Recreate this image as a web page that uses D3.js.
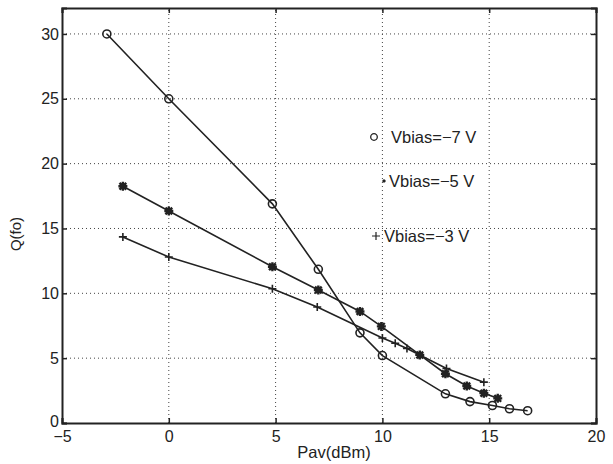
<!DOCTYPE html>
<html><head><meta charset="utf-8">
<script src="https://cdn.jsdelivr.net/npm/d3@7"></script>
<style>body{margin:0;background:#fff}</style>
</head><body>
<svg id="c" width="613" height="464"></svg>
<script>
const xTicks = [-5, 0, 5, 10, 15, 20];
const yTicks = [0, 5, 10, 15, 20, 25, 30];
const seriesNames = ["Vbias=\u22127 V", "Vbias=\u22125 V", "Vbias=\u22123 V"];
const v7x = [-2.9, 0, 4.85, 7.0, 8.95, 10.0, 12.95, 14.1, 15.15, 15.95, 16.8];
const v7y = [30.0, 25.0, 16.9, 11.85, 6.95, 5.2, 2.25, 1.65, 1.35, 1.1, 0.95];
const v5x = [-2.15, 0.0, 4.85, 7.0, 8.95, 9.95, 11.75, 12.95, 13.95, 14.75, 15.4];
const v5y = [18.25, 16.35, 12.05, 10.25, 8.6, 7.45, 5.25, 3.8, 2.85, 2.3, 1.9];
const v3x = [-2.15, 0.0, 4.85, 6.95, 10.0, 10.6, 11.15, 11.75, 13.0, 14.75];
const v3y = [14.35, 12.8, 10.35, 8.95, 6.55, 6.15, 5.75, 5.25, 4.2, 3.15];

const svg = d3.select("#c");
const x = d3.scaleLinear().domain([-5, 20]).range([62, 596]);
const y = d3.scaleLinear().domain([0, 32]).range([423, 8]);
const ink = "#222";
const font = "'Liberation Sans', Arial, Helvetica, sans-serif";

// grid
const g = svg.append("g");
g.selectAll("line.gx").data(xTicks.slice(1, -1)).enter().append("line")
  .attr("x1", d => x(d)).attr("x2", d => x(d)).attr("y1", y(0)).attr("y2", y(32))
  .attr("stroke", "#444").attr("stroke-width", 1).attr("stroke-dasharray", "1,3");
g.selectAll("line.gy").data(yTicks.slice(1)).enter().append("line")
  .attr("x1", x(-5)).attr("x2", x(20)).attr("y1", d => y(d)).attr("y2", d => y(d))
  .attr("stroke", "#444").attr("stroke-width", 1).attr("stroke-dasharray", "1,3");

// axes (inner ticks)
const ax = svg.append("g").attr("transform", `translate(0,${y(0)})`)
  .call(d3.axisBottom(x).tickValues(xTicks).tickSize(-5).tickPadding(7.5).tickFormat(d3.format("d")));
const axT = svg.append("g").attr("transform", `translate(0,${y(32)})`)
  .call(d3.axisTop(x).tickValues(xTicks).tickSize(-5).tickFormat(""));
const ay = svg.append("g").attr("transform", `translate(${x(-5)},0)`)
  .call(d3.axisLeft(y).tickValues(yTicks).tickSize(-5).tickPadding(3));
const ayR = svg.append("g").attr("transform", `translate(${x(20)},0)`)
  .call(d3.axisRight(y).tickValues(yTicks).tickSize(-5).tickFormat(""));
[ax, axT, ay, ayR].forEach(a => {
  a.selectAll("path").attr("stroke", ink).attr("stroke-width", 2);
  a.selectAll("line").attr("stroke", ink).attr("stroke-width", 1.5);
  a.selectAll("text").attr("fill", "#222").style("font-family", font).style("font-size", "16px");
});
ax.selectAll("text").attr("dy", "0.71em");
ay.selectAll("text").filter(d => d === 0).attr("dy", "0.2em");

// labels
svg.append("text").attr("x", 334).attr("y", 458).attr("text-anchor", "middle")
  .style("font-family", font).style("font-size", "16.5px").attr("fill", "#222").text("Pav(dBm)");
svg.append("text").attr("transform", "translate(21,234) rotate(-90)").attr("text-anchor", "middle")
  .style("font-family", font).style("font-size", "15px").attr("fill", "#222").text("Q(fo)");

const line = d3.line().x(d => x(d[0])).y(d => y(d[1]));
const series = [
  {xs: v7x, ys: v7y, m: "o"},
  {xs: v5x, ys: v5y, m: "*"},
  {xs: v3x, ys: v3y, m: "+"}
];
function marker(sel, m) {
  if (m === "o") {
    sel.append("circle").attr("r", 4).attr("fill", "none").attr("stroke", ink).attr("stroke-width", 1.6);
  } else if (m === "*") {
    const k = 4.5;
    sel.append("path").attr("d", `M${-k},0H${k}M0,${-k}V${k}M${-k*0.75},${-k*0.75}L${k*0.75},${k*0.75}M${-k*0.75},${k*0.75}L${k*0.75},${-k*0.75}`)
      .attr("stroke", ink).attr("stroke-width", 2.4);
    sel.append("rect").attr("x", -2.5).attr("y", -2.5).attr("width", 5).attr("height", 5).attr("fill", ink);
  } else {
    const k = 4;
    sel.append("path").attr("d", `M${-k},0H${k}M0,${-k}V${k}`).attr("stroke", ink).attr("stroke-width", 1.6);
  }
}
series.forEach(sr => {
  const pts = sr.xs.map((v, i) => [v, sr.ys[i]]);
  svg.append("path").datum(pts).attr("d", line).attr("fill", "none").attr("stroke", ink).attr("stroke-width", 1.6);
  svg.selectAll(null).data(pts).enter().append("g")
    .attr("transform", d => `translate(${x(d[0])},${y(d[1])})`)
    .each(function() { marker(d3.select(this), sr.m); });
});

// legend text (as in original)
const leg = [
  {t: seriesNames[0], mx: 374, my: 137, tx: 391, m: "o"},
  {t: seriesNames[1], mx: 384, my: 181, tx: 389, m: "*"},
  {t: seriesNames[2], mx: 376, my: 236, tx: 384, m: "+"}
];
leg.forEach(l => {
  const lg = svg.append("g").attr("transform", `translate(${l.mx},${l.my})`);
  if (l.m === "o") {
    lg.append("circle").attr("r", 3.3).attr("fill", "none").attr("stroke", ink).attr("stroke-width", 1.3);
  } else if (l.m === "*") {
    lg.append("path").attr("d", "M-1.6,0H1.6M0,-1.6V1.6M-1.2,-1.2L1.2,1.2M-1.2,1.2L1.2,-1.2").attr("stroke", ink).attr("stroke-width", 1.2);
  } else {
    lg.append("path").attr("d", "M-4,0H4M0,-4V4").attr("stroke", ink).attr("stroke-width", 1.2);
  }
  svg.append("text").attr("x", l.tx).attr("y", l.my + 5.5).style("font-family", font).style("font-size", "16.5px")
    .attr("fill", "#222").text(l.t);
});
</script>
</body></html>
